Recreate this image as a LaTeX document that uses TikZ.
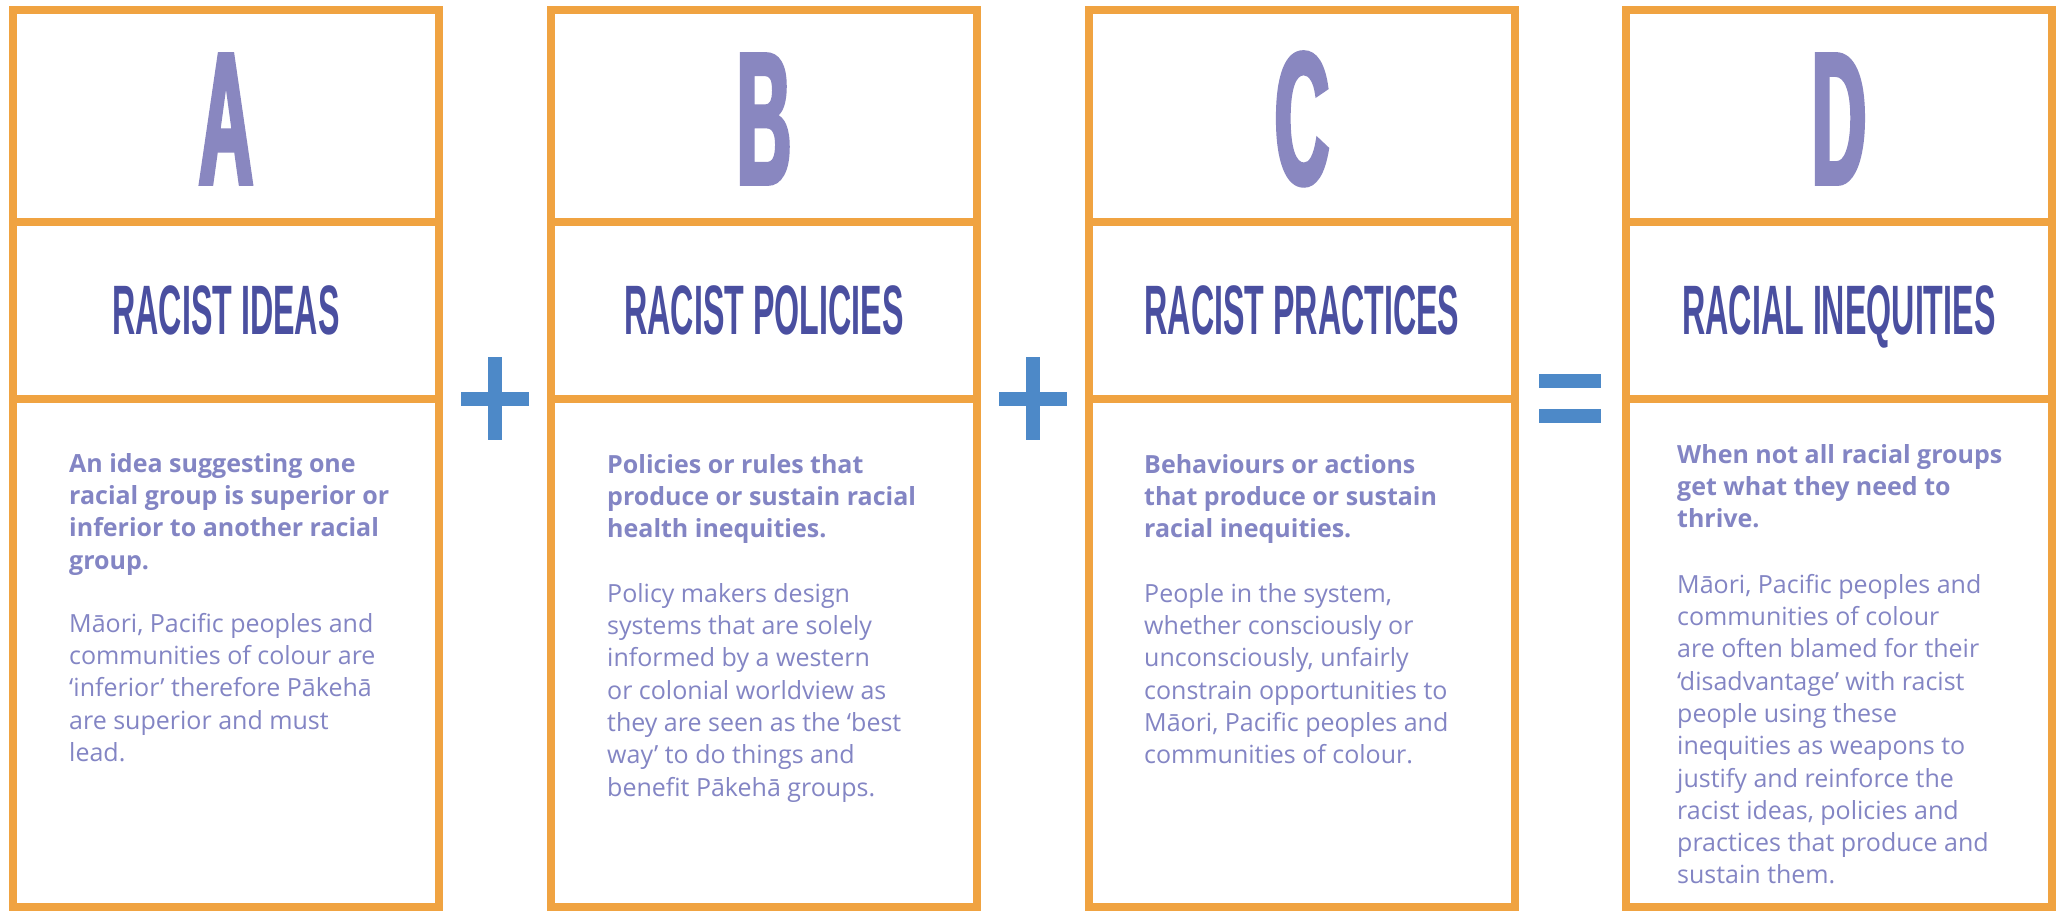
\documentclass[tikz,border=0pt]{standalone}
\usepackage{fontspec}
\setmainfont{Open Sans}
\newfontfamily\bigletterfont[FakeStretch=0.40,FakeBold=2]{Liberation Sans}
\newfontfamily\headfont[FakeStretch=0.46]{Liberation Sans}
\definecolor{framec}{HTML}{F0A341}
\definecolor{letterc}{HTML}{8987C0}
\definecolor{headc}{HTML}{4A4FA0}
\definecolor{bodyc}{HTML}{8385C4}
\definecolor{opc}{HTML}{4D89C8}
\tikzset{
  panel/.style={draw=framec, line width=8.5pt, inner sep=0pt, outer sep=0pt, anchor=north west, minimum width=426pt},
  bigletter/.style={text=letterc, font=\bigletterfont\bfseries\fontsize{189}{189}\selectfont, inner sep=0pt, anchor=base},
  head/.style={text=headc, font=\headfont\bfseries\fontsize{70}{70}\selectfont, inner sep=0pt, anchor=base},
  bodytext/.style={text=bodyc, font=\fontsize{25}{32.3}\selectfont, align=left, inner sep=0pt, anchor=north west},
  boldtext/.style={bodytext, font=\bfseries\fontsize{25}{32.3}\selectfont},
  opbar/.style={fill=opc, draw=none}
}
\newcommand{\fl}{\rule{0pt}{22pt}}
\begin{document}
\begin{tikzpicture}[x=1pt,y=-1pt]
\useasboundingbox (0,0) rectangle (2063,911);
\fill[white] (0,0) rectangle (2063,911);
% panels
\foreach \n/\x in {A/13,B/551,C/1089,D/1626}{
  \node[panel, minimum height=212pt] (\n top) at (\x,10) {};
  \node[panel, minimum height=177pt] (\n mid) at (\x,222) {};
  \node[panel, minimum height=508pt] (\n bot) at (\x,399) {};
}
% big letters
\node[bigletter] (LA) at (226,184) {A};
\node[bigletter] (LB) at (764,184) {B};
\node[bigletter] (LC) at (1302,184) {C};
\node[bigletter] (LD) at (1839,184) {D};
% headings
\node[head] (HA) at (226,334) {RACIST IDEAS};
\node[head] (HB) at (764,334) {RACIST POLICIES};
\node[head] (HC) at (1302,334) {RACIST PRACTICES};
\node[head] (HD) at (1839,334) {RACIAL INEQUITIES};
% operators
\fill[opbar] (461,392) rectangle (529,406);
\fill[opbar] (488,357) rectangle (502,440);
\fill[opbar] (999,392) rectangle (1067,406);
\fill[opbar] (1026,357) rectangle (1040,440);
\fill[opbar] (1539,374) rectangle (1601,388);
\fill[opbar] (1539,409) rectangle (1601,423);
% body text A
\node[boldtext] (TA1) at (69,450) {\fl An idea suggesting one\\ racial group is superior or\\ inferior to another racial\\ group.};
\node[bodytext] (TA2) at (69,610) {\fl Māori, Pacific peoples and\\ communities of colour are\\ ‘inferior’ therefore Pākehā\\ are superior and must\\ lead.};
% body text B
\node[boldtext] (TB1) at (607,451) {\fl Policies or rules that\\ produce or sustain racial\\ health inequities.};
\node[bodytext] (TB2) at (607,580) {\fl Policy makers design\\ systems that are solely\\ informed by a western\\ or colonial worldview as\\ they are seen as the ‘best\\ way’ to do things and\\ benefit Pākehā groups.};
% body text C
\node[boldtext] (TC1) at (1144,451) {\fl Behaviours or actions\\ that produce or sustain\\ racial inequities.};
\node[bodytext] (TC2) at (1144,580) {\fl People in the system,\\ whether consciously or\\ unconsciously, unfairly\\ constrain opportunities to\\ Māori, Pacific peoples and\\ communities of colour.};
% body text D
\node[boldtext] (TD1) at (1677,441) {\fl When not all racial groups\\ get what they need to\\ thrive.};
\node[bodytext] (TD2) at (1677,571) {\fl Māori, Pacific peoples and\\ communities of colour\\ are often blamed for their\\ ‘disadvantage’ with racist\\ people using these\\ inequities as weapons to\\ justify and reinforce the\\ racist ideas, policies and\\ practices that produce and\\ sustain them.};
\end{tikzpicture}
\end{document}
